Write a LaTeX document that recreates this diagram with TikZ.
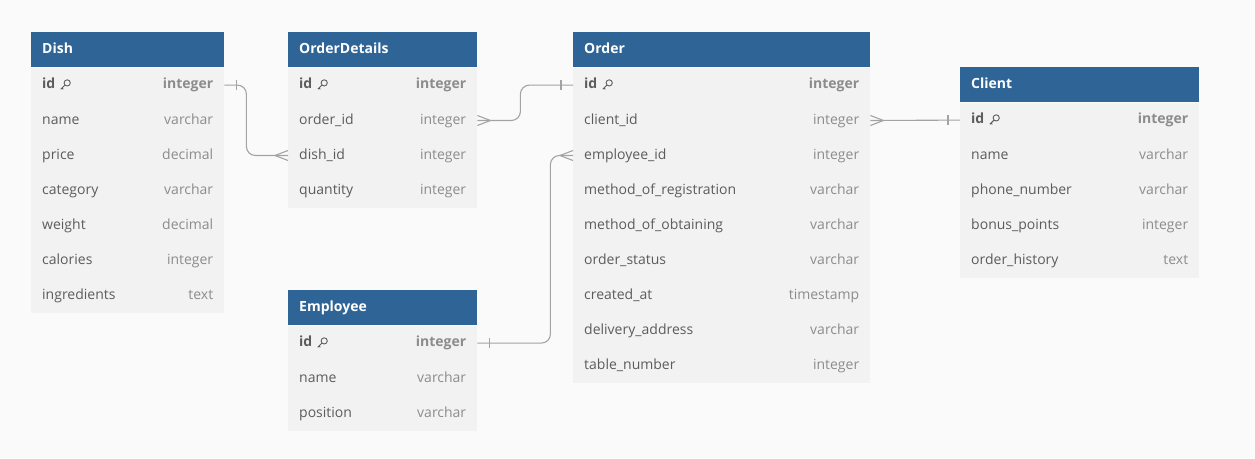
\documentclass[tikz,border=0pt]{standalone}
\usepackage{fontspec}
\setmainfont{Open Sans}
\usetikzlibrary{calc}

\definecolor{hdrblue}{HTML}{2E6496}
\definecolor{rowgrey}{HTML}{F2F2F2}
\definecolor{bggrey}{HTML}{FAFAFA}
\definecolor{namegrey}{HTML}{5C5C5C}
\definecolor{typegrey}{HTML}{8C8C8C}
\definecolor{linegrey}{HTML}{A3A3A3}

\tikzset{
	conn/.style={draw=linegrey, line width=1.1},
	keyico/.pic={
		\draw[namegrey, line width=0.9] (2.2,-2.2) circle (3.1) (0,0) -- (-4.2,4.2) (-3,3) -- (-1.8,4.2);
	},
	onebar/.pic={\draw[conn] (12,-5) -- (12,5);},
	crowfoot/.pic={\draw[conn] (0,-5) -- (13,0) -- (0,5);}
}

\begin{document}
\begin{tikzpicture}[
	x=1pt, y=-1pt,
	every node/.style={font=\fontsize{14}{16}\selectfont, inner ysep=0, text height=10.5, text depth=3},
	tblhead/.style={anchor=north west, fill=hdrblue, text=white, font=\fontsize{14}{16}\selectfont\bfseries, text width=#1-22, inner xsep=11, minimum height=35, align=left},
	fieldrow/.style={anchor=north west, fill=rowgrey, text=namegrey, text width=#1-22, inner xsep=11, minimum height=35, align=left},
	keyrow/.style={fieldrow=#1, font=\fontsize{14}{16}\selectfont\bfseries},
	ftype/.style={anchor=east, xshift=-11, inner xsep=0, text=typegrey},
	ktype/.style={ftype, font=\fontsize{14}{16}\selectfont\bfseries}
	]
	
	\fill[bggrey] (0,0) rectangle (1255,458);
	\useasboundingbox (0,0) rectangle (1255,458);
	
	% Dish
	\node[tblhead=193] (dish) at (31,32) {Dish};
	\node[keyrow=193] (dish-id) at (dish.south west) {id};
	\node[ktype] (dish-id-t) at (dish-id.east) {integer};
	\path ($(dish-id.west)+(34,0)$) pic{keyico};
	\foreach \n/\f/\t [count=\i] in {name/name/varchar, price/price/decimal, cat/category/varchar, weight/weight/decimal, cal/calories/integer, ingr/ingredients/text}
	{
		\node[fieldrow=193] (dish-\n) at ($(dish-id.south west)+(0,35*\i-35)$) {\f};
		\node[ftype] (dish-\n-t) at (dish-\n.east) {\t};
	}
	
	% OrderDetails
	\node[tblhead=189] (od) at (288,32) {OrderDetails};
	\node[keyrow=189] (od-id) at (od.south west) {id};
	\node[ktype] (od-id-t) at (od-id.east) {integer};
	\path ($(od-id.west)+(34,0)$) pic{keyico};
	\foreach \n/\f/\t [count=\i] in {oid/order\_id/integer, did/dish\_id/integer, qty/quantity/integer}
	{
		\node[fieldrow=189] (od-\n) at ($(od-id.south west)+(0,35*\i-35)$) {\f};
		\node[ftype] (od-\n-t) at (od-\n.east) {\t};
	}
	
	% Employee
	\node[tblhead=189] (emp) at (288,290) {Employee};
	\node[keyrow=189] (emp-id) at (emp.south west) {id};
	\node[ktype] (emp-id-t) at (emp-id.east) {integer};
	\path ($(emp-id.west)+(34,0)$) pic{keyico};
	\foreach \n/\f/\t [count=\i] in {name/name/varchar, pos/position/varchar}
	{
		\node[fieldrow=189] (emp-\n) at ($(emp-id.south west)+(0,35*\i-35)$) {\f};
		\node[ftype] (emp-\n-t) at (emp-\n.east) {\t};
	}
	
	% Order
	\node[tblhead=297] (order) at (573,32) {Order};
	\node[keyrow=297] (order-id) at (order.south west) {id};
	\node[ktype] (order-id-t) at (order-id.east) {integer};
	\path ($(order-id.west)+(34,0)$) pic{keyico};
	\foreach \n/\f/\t [count=\i] in {cid/client\_id/integer, eid/employee\_id/integer, reg/method\_of\_registration/varchar, obt/method\_of\_obtaining/varchar, status/order\_status/varchar, created/created\_at/timestamp, addr/delivery\_address/varchar, tbl/table\_number/integer}
	{
		\node[fieldrow=297] (order-\n) at ($(order-id.south west)+(0,35*\i-35)$) {\f};
		\node[ftype] (order-\n-t) at (order-\n.east) {\t};
	}
	
	% Client
	\node[tblhead=239] (client) at (960,67) {Client};
	\node[keyrow=239] (client-id) at (client.south west) {id};
	\node[ktype] (client-id-t) at (client-id.east) {integer};
	\path ($(client-id.west)+(34,0)$) pic{keyico};
	\foreach \n/\f/\t [count=\i] in {name/name/varchar, phone/phone\_number/varchar, bonus/bonus\_points/integer, hist/order\_history/text}
	{
		\node[fieldrow=239] (client-\n) at ($(client-id.south west)+(0,35*\i-35)$) {\f};
		\node[ftype] (client-\n-t) at (client-\n.east) {\t};
	}
	
	% Relations
	\draw[conn, rounded corners=9] (dish-id.east) -- ++(22,0) |- (od-did.west);
	\path (dish-id.east) pic{onebar};
	\path (od-did.west) pic[rotate=180]{crowfoot};
	
	\draw[conn, rounded corners=9] (od-oid.east) -- ++(43,0) |- (order-id.west);
	\path (od-oid.east) pic{crowfoot};
	\path (order-id.west) pic[rotate=180]{onebar};
	
	\draw[conn, rounded corners=9] (emp-id.east) -- ++(73,0) |- (order-eid.west);
	\path (emp-id.east) pic{onebar};
	\path (order-eid.west) pic[rotate=180]{crowfoot};
	
	\draw[conn] (order-cid.east) -- (client-id.west);
	\path (order-cid.east) pic{crowfoot};
	\path (client-id.west) pic[rotate=180]{onebar};
	
\end{tikzpicture}
\end{document}
